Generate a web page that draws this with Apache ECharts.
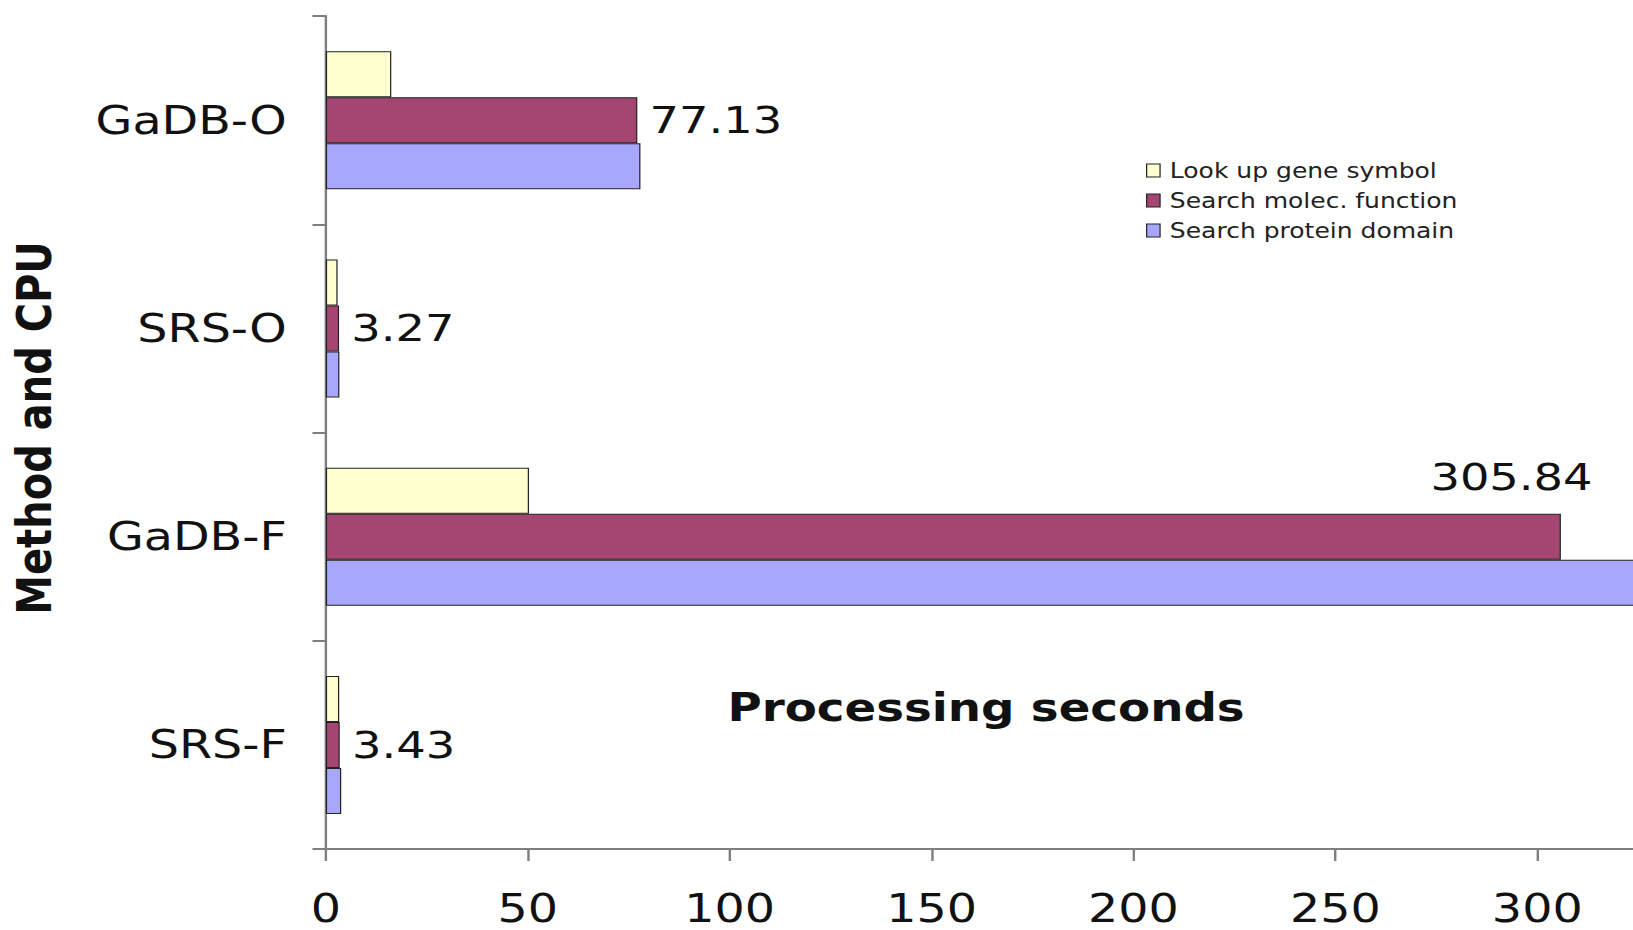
<!DOCTYPE html>
<html>
<head>
<meta charset="utf-8">
<script src="https://cdn.jsdelivr.net/npm/echarts@6/dist/echarts.min.js"></script>
<style>
  html, body { margin: 0; padding: 0; background: #fff; overflow: hidden; }
  /* the chart is laid out narrow and widened horizontally, giving the wide lettering */
  #chart { width: 1338px; height: 930px; transform: scaleX(1.22048); transform-origin: 0 0; }
</style>
</head>
<body>
<div id="chart"></div>
<script>
// Method / CPU combinations (top to bottom)
const categories = ['GaDB-O', 'SRS-O', 'GaDB-F', 'SRS-F'];

// Processing seconds per query type
const seriesNames = ['Look up gene symbol', 'Search molec. function', 'Search protein domain'];
const lookupGeneSymbol = [16.2, 2.9, 50.3, 3.3];
const searchMolecFunction = [77.13, 3.27, 305.84, 3.43];
const searchProteinDomain = [77.9, 3.35, 340, 3.8];

// Value axis ticks
const xMin = 0;
const xMax = 350;
const xStep = 50;

const FONT = 'DejaVu Sans, Verdana, sans-serif';
const INK = '#111';
const colors = ['#FFFFCF', '#A54672', '#A7A7FD'];

const chart = echarts.init(document.getElementById('chart'), null, { renderer: 'svg' });

const barBase = {
  type: 'bar',
  barWidth: 46,
  barGap: '0%',
  emphasis: { disabled: true }
};

// value labels on the molecular-function bars; the long GaDB-F bar carries its label above the end
const molecData = searchMolecFunction.map((v, i) => {
  if (i === 2) {
    return {
      value: v,
      label: {
        position: ['100%', 0],
        offset: [26, -37],
        align: 'right',
        verticalAlign: 'middle'
      }
    };
  }
  return v;
});

chart.setOption({
  animation: false,
  backgroundColor: '#fff',
  grid: {
    left: 267, top: 16, width: 1158, height: 833,
    outerBoundsMode: 'none',
    containLabel: false
  },
  legend: {
    orient: 'vertical',
    left: 934,
    top: 155,
    itemWidth: 11,
    itemHeight: 13,
    itemGap: 9,
    icon: 'rect',
    itemStyle: { borderColor: '#222', borderWidth: 1 },
    textStyle: { fontFamily: FONT, fontSize: 20.5, color: '#222', lineHeight: 20, padding: [0, 0, 0, 3] },
    data: seriesNames
  },
  xAxis: {
    type: 'value',
    min: xMin,
    max: xMax,
    interval: xStep,
    splitLine: { show: false },
    axisLine: { show: true, lineStyle: { color: '#7f7f7f', width: 2 } },
    axisTick: { show: true, length: 12, lineStyle: { color: '#7f7f7f', width: 2 } },
    axisLabel: {
      fontFamily: FONT, fontSize: 39, lineHeight: 34, color: INK, margin: 43,
      showMaxLabel: false
    }
  },
  yAxis: {
    type: 'category',
    inverse: true,
    data: categories,
    axisLine: { show: true, lineStyle: { color: '#7f7f7f', width: 2 } },
    axisTick: { show: true, length: 11, lineStyle: { color: '#7f7f7f', width: 2 } },
    axisLabel: { fontFamily: FONT, fontSize: 39, color: INK, margin: 32 }
  },
  graphic: [
    {
      type: 'text',
      x: 28,
      y: 428,
      rotation: Math.PI / 2,
      style: {
        text: 'Method and CPU',
        fontFamily: FONT,
        fontWeight: 'bold',
        fontSize: 40,
        fill: INK,
        align: 'center',
        verticalAlign: 'middle'
      }
    },
    {
      type: 'text',
      x: 596,
      y: 708,
      style: {
        text: 'Processing seconds',
        fontFamily: FONT,
        fontWeight: 'bold',
        fontSize: 38.3,
        fill: INK,
        align: 'left',
        verticalAlign: 'middle'
      }
    }
  ],
  series: [
    Object.assign({}, barBase, {
      name: seriesNames[0],
      data: lookupGeneSymbol,
      itemStyle: { color: colors[0], borderColor: '#222', borderWidth: 1 }
    }),
    Object.assign({}, barBase, {
      name: seriesNames[1],
      data: molecData,
      itemStyle: { color: colors[1], borderColor: '#222', borderWidth: 1 },
      label: {
        show: true,
        position: 'right',
        distance: 10,
        fontFamily: FONT,
        fontSize: 38,
        color: INK,
        formatter: p => p.value.toFixed(2)
      }
    }),
    Object.assign({}, barBase, {
      name: seriesNames[2],
      data: searchProteinDomain,
      itemStyle: { color: colors[2], borderColor: '#222', borderWidth: 1 }
    })
  ]
});
</script>
</body>
</html>
